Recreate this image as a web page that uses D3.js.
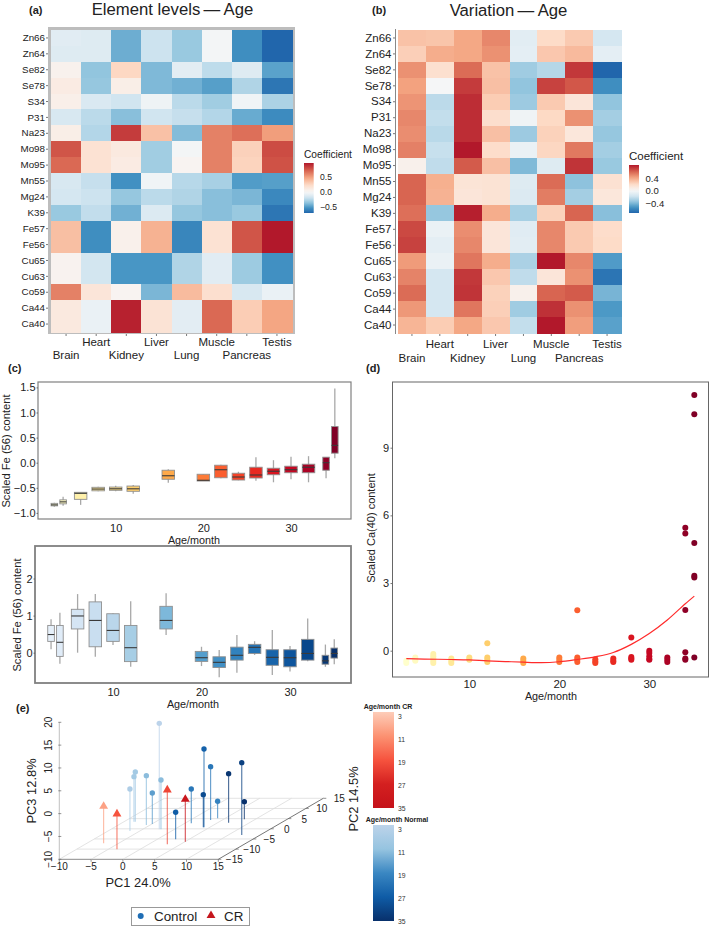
<!DOCTYPE html>
<html><head><meta charset="utf-8">
<script src="https://cdn.jsdelivr.net/npm/d3@7/dist/d3.min.js"></script>
<style>html,body{margin:0;padding:0;background:#fff}svg{display:block}text{font-family:"Liberation Sans",Arial,sans-serif;fill:#222}</style>
</head><body><svg id="c" width="709" height="926"></svg>
<script>
// ---------- heatmap data ----------
const elements = ["Zn66","Zn64","Se82","Se78","S34","P31","Na23","Mo98","Mo95","Mn55","Mg24","K39","Fe57","Fe56","Cu65","Cu63","Co59","Ca44","Ca40"];
const tissues = ["Brain","Heart","Kidney","Liver","Lung","Muscle","Pancreas","Testis"];
const levels = [
[-.10,-.11,-.42,-.18,-.32,-.02,-.53,-.68],
[-.11,-.11,-.42,-.18,-.32,-.02,-.53,-.68],
[.05,-.34,.25,-.38,-.09,-.22,-.11,-.46],
[.10,-.33,.08,-.38,-.41,-.47,-.26,-.62],
[.07,-.13,-.17,-.04,-.23,-.30,-.03,-.27],
[-.14,-.23,-.36,-.17,-.20,-.25,-.43,-.54],
[.08,-.25,.83,.35,-.37,.60,.66,.50],
[.75,.18,.12,-.30,-.02,.60,.28,.78],
[.68,.18,.10,-.30,.03,.60,.27,.76],
[-.14,-.20,-.52,-.03,-.24,-.28,-.48,-.47],
[-.15,-.18,-.33,-.23,-.26,-.36,-.39,-.55],
[-.32,-.21,-.41,-.12,-.33,-.36,-.32,-.62],
[.36,-.53,.06,.42,-.56,.18,.75,.95],
[.36,-.53,.06,.42,-.56,.18,.75,.95],
[.04,-.16,-.50,-.50,-.26,-.10,-.31,-.52],
[.04,-.16,-.50,-.50,-.26,-.10,-.31,-.52],
[.60,.15,.03,-.39,.38,.20,-.14,-.06],
[.12,-.06,.92,.17,-.09,.68,.30,.47],
[.12,-.06,.92,.17,-.09,.68,.30,.47]];
const variation = [
[.30,.29,.40,.50,-.10,.20,.27,-.16],
[.25,.38,.40,.47,-.09,.28,.33,-.09],
[.47,.17,.58,.30,-.32,-.26,.73,-.72],
[.42,-.01,.72,.31,-.36,.70,.64,-.56],
[.46,-.24,.76,.26,-.33,.27,.13,-.36],
[.50,-.22,.76,.18,-.04,.21,.47,-.31],
[.48,-.25,.76,.31,-.33,.24,.12,-.35],
[.52,-.21,.82,.19,-.06,.22,.54,-.31],
[.05,-.23,.63,.31,-.40,-.12,.74,-.34],
[.60,.37,.14,.15,-.12,.58,-.37,.16],
[.60,.36,.13,.15,-.13,.53,-.31,.12],
[.57,-.35,.80,.38,-.30,.24,.60,-.38],
[.68,-.06,.48,.13,-.11,.50,.27,.19],
[.70,-.09,.50,.13,-.10,.50,.27,.20],
[.44,-.06,.55,.38,-.29,.82,.50,-.51],
[.51,-.16,.73,.28,-.23,.13,.47,-.66],
[.58,-.16,.74,.24,.05,.60,.63,-.42],
[.45,-.16,.55,.25,-.32,.75,.47,-.52],
[.35,.26,.40,.28,-.22,.82,.43,-.49]];
const rdbu = ["#2166ac","#4393c3","#92c5de","#d1e5f0","#f7f7f7","#fddbc7","#f4a582","#d6604d","#b2182b"];
const levelsRange = [-.68,.95], variationRange = [-.72,.82];
const levelsTicks = [.5,0,-.5], variationTicks = [.4,0,-.4];

// ---------- box data: [age, low whisker, q1, median, q3, high whisker] ----------
const ages = [3,4,6,8,10,12,16,20,22,24,26,28,30,32,34,35];
const crFe = [
[-.875,-.86,-.84,-.81,-.80],[-.86,-.82,-.78,-.74,-.68],[-.84,-.73,-.61,-.59,-.59],[-.57,-.56,-.525,-.49,-.48],
[-.57,-.55,-.52,-.485,-.46],[-.62,-.57,-.52,-.465,-.445],[-.40,-.33,-.26,-.15,-.13],[-.365,-.365,-.35,-.23,-.23],
[-.31,-.30,-.14,-.05,-.04],[-.35,-.345,-.285,-.21,-.18],[-.36,-.305,-.245,-.09,.11],[-.39,-.24,-.17,-.11,.05],
[-.33,-.20,-.14,-.07,.12],[-.39,-.20,-.09,-.03,.13],[-.31,-.15,0,.11,.11],[.09,.19,.345,.72,1.48]];
const normalFe = [
[.09,.305,.49,.735,.90],[-.30,-.10,.28,.735,1.08],[0,.64,.99,1.17,1.58],[-.11,.16,.87,1.37,1.58],
[.21,.305,.60,1.05,1.06],[-.38,-.24,.135,.735,1.39],[.475,.64,.87,1.25,1.60],[-.36,-.235,-.135,.035,.16],
[-.66,-.40,-.26,-.11,.07],[-.54,-.20,-.07,.15,.475],[-.06,-.02,.145,.225,.31],[-.60,-.34,-.125,.08,.61],
[-.51,-.38,-.135,.08,.18],[-.23,-.20,-.02,.36,.92],[-.38,-.31,-.22,-.07,.22],[-.31,-.145,-.02,.125,.36]];

// ---------- Ca(40) scatter ----------
const caValues = [
[-.45,-.55],[-.3,-.4,-.45],[-.15,-.25,-.35,-.45,-.55],[-.35,-.45,-.55],[-.3,-.4],[.33,-.3,-.4,-.5],
[-.35,-.45,-.55],[-.3,-.4,-.5],[1.79,-.3,-.4,-.5],[-.38,-.48,-.55],[-.35,-.45,-.5],[.58,-.28,-.35,-.4],
[0,-.1,-.25,-.37,-.4],[-.3,-.4,-.5],[5.45,5.2,1.8,-.07,-.35,-.4],[11.34,10.48,4.78,3.32,3.25,-.3]];
const fitAge = [3,5,8,10,12,14,16,18,20,22,24,26,28,30,32,34,35];
const fitValue = [-.35,-.37,-.39,-.41,-.45,-.48,-.51,-.53,-.49,-.39,-.27,-.08,.28,.76,1.36,2.08,2.42];

// ---------- PCA ----------
const pcaControlPC1 = [-2.4,4.09,3.15,12.1,6.7,-8.24,-8.45,-5.61,-2.13,-6.56,-4.94,1.01,3.98,3.8,8.27,2.88];
const pcaControlPC2 = [-.25,.74,4.34,-3.03,3.03,3.52,3.52,1.89,-.25,-1.07,2.38,2.7,.74,5.16,4.67,-5.16];
const pcaControlPC3 = [13.2,7.15,1.68,5.84,.73,.88,-.15,.8,.8,-.8,-3.21,-2.48,-2.85,-6.28,-6.13,-4.09];
const pcaControlAge = [3,26,22,32,34,8,8,12,12,6,16,22,30,20,35,27];
const pcaCrPC1 = [-7.36,-3.64,2.92,5.03];
const pcaCrPC2 = [-7.13,-10.08,-7.62,-6.31];
const pcaCrPC3 = [-1.9,-2.26,1.9,-.73];
const pcaCrAge = [9,19,21,33];
const legendAges = [3,11,19,27,35];
const crRamp = ["#fdcdb9","#fc9272","#f6533e","#d42020","#c5121a"];
const normalRamp = ["#bcd3ea","#96c4e0","#3a87c2","#0f5ca6","#08306b"];

// ---------- helpers ----------
const svg = d3.select("#c");
const txt = (x,y,s,size,o={}) => {
  const t = svg.append("text").attr("x",x).attr("y",y).attr("font-size",size).text(s)
    .attr("text-anchor",o.a||"start").attr("dominant-baseline","central");
  if(o.b) t.attr("font-weight","bold");
  if(o.f) t.style("fill",o.f);
  if(o.r) t.attr("transform",`rotate(${o.r} ${x} ${y})`);
  return t;
};
function styleAxis(g,size,color){
  g.select(".domain").remove();
  g.selectAll("line").attr("stroke",color||"#555").attr("stroke-width",.8);
  g.selectAll("text").attr("font-size",size).style("fill","#222").attr("font-family",'"Liberation Sans",Arial,sans-serif');
}
function colorFn(range){
  const [lo,hi]=range;
  const dom=[...d3.range(4).map(i=>lo*(4-i)/4),0,...d3.range(1,5).map(i=>hi*i/4)];
  return d3.scaleLinear().domain(dom).range(rdbu);
}
function heatmap(o){
  const xb=d3.scaleBand().domain(tissues).range([o.x0,o.x1]);
  const yb=d3.scaleBand().domain(elements).range([o.y0,o.y1]);
  const col=colorFn(o.range);
  const g=svg.append("g").attr("shape-rendering","crispEdges");
  o.data.forEach((row,i)=>row.forEach((v,j)=>{
    g.append("rect").attr("x",xb(tissues[j])).attr("y",yb(elements[i]))
     .attr("width",xb.bandwidth()+.5).attr("height",yb.bandwidth()+.5).attr("fill",col(v));
  }));
  const ay=svg.append("g").attr("transform",`translate(${o.ax},0)`).call(d3.axisLeft(yb).tickSize(2).tickPadding(o.tp));
  styleAxis(ay,o.ylabel);
  const ax=svg.append("g").attr("transform",`translate(0,${o.axY})`).call(d3.axisBottom(xb).tickSize(2).tickFormat(""));
  styleAxis(ax,o.xlabel);
  tissues.forEach((t,j)=>txt(xb(t)+xb.bandwidth()/2,j%2?o.ly1:o.ly2,t,o.xlabel,{a:"middle"}));
  // colour bar
  const id="grad"+o.id, [lo,hi]=o.range;
  const gr=svg.append("defs").append("linearGradient").attr("id",id).attr("x1",0).attr("x2",0).attr("y1",1).attr("y2",0);
  d3.range(0,1.001,.05).forEach(t=>gr.append("stop").attr("offset",t).attr("stop-color",col(lo+(hi-lo)*t)));
  const cb=d3.scaleLinear().domain(o.range).range([o.cb[3],o.cb[1]]);
  svg.append("rect").attr("x",o.cb[0]).attr("y",o.cb[1]).attr("width",o.cb[2]-o.cb[0]).attr("height",o.cb[3]-o.cb[1]).attr("fill",`url(#${id})`);
  o.ticks.forEach(v=>txt(o.cb[2]+o.cbl,cb(v),v===0?"0.0":d3.format(".1f")(v).replace("-","\u2212"),o.cbs));
  txt(o.cb[0],o.cbty,"Coefficient",o.cbt);
}

// ---------- panel a ----------
svg.append("rect").attr("x",49.5).attr("y",28.5).attr("width",244).attr("height",304).attr("fill","none").attr("stroke","#bdbdbd").attr("stroke-width",3);
heatmap({id:"a",data:levels,range:levelsRange,ticks:levelsTicks,x0:51,x1:292,y0:30,y1:332,ax:48,axY:334,tp:1,ylabel:9.8,xlabel:11.5,ly1:342,ly2:355,cb:[304,163,313.7,213],cbl:6.3,cbs:8.6,cbty:154,cbt:10.2});
txt(172.5,9,"Element levels\u2009\u2014\u2009Age",16.7,{a:"middle"});
txt(29,10,"(a)",11,{b:1});
// ---------- panel b ----------
svg.append("line").attr("x1",395.5).attr("x2",395.5).attr("y1",29).attr("y2",334).attr("stroke","#888").attr("stroke-width",1);
heatmap({id:"b",data:variation,range:variationRange,ticks:variationTicks,x0:398,x1:621,y0:30,y1:333,ax:395,axY:334,tp:1.5,ylabel:11.5,xlabel:11.5,ly1:344,ly2:358,cb:[629,165,639,213],cbl:6.5,cbs:9.5,cbty:155.5,cbt:11.5});
txt(508.5,10.5,"Variation\u2009\u2014\u2009Age",16.7,{a:"middle"});
txt(372,10,"(b)",11,{b:1});

// ---------- box panels ----------
function boxes(o){
  const x=d3.scaleLinear().domain([10,30]).range(o.xr);
  const y=d3.scaleLinear().domain(o.yd).range(o.yr);
  const col=o.col;
  svg.append("rect").attr("x",o.b[0]).attr("y",o.b[1]).attr("width",o.b[2]-o.b[0]).attr("height",o.b[3]-o.b[1])
    .attr("fill","#fff").attr("stroke","#808080").attr("stroke-width",o.bw);
  o.data.forEach((d,i)=>{
    const m=ages[i], gap=d3.min(ages.filter(a=>a!==m).map(a=>Math.abs(a-m)));
    const w=Math.min(o.mw,(x(1)-x(0))*gap*.75), cx=x(m);
    svg.append("line").attr("x1",cx).attr("x2",cx).attr("y1",y(d[0])).attr("y2",y(d[4])).attr("stroke","#a8a8a8").attr("stroke-width",1.3);
    svg.append("rect").attr("x",cx-w/2).attr("y",y(d[3])).attr("width",w).attr("height",y(d[1])-y(d[3]))
      .attr("fill",col(m)).attr("stroke","#909090").attr("stroke-width",.9);
    svg.append("line").attr("x1",cx-w/2).attr("x2",cx+w/2).attr("y1",y(d[2])).attr("y2",y(d[2])).attr("stroke","#3a3a3a").attr("stroke-width",1.1);
  });
  styleAxis(svg.append("g").attr("transform",`translate(${o.b[0]},0)`).call(d3.axisLeft(y).tickValues(o.yt).tickSize(1.5).tickPadding(1).tickFormat(o.yf)),11);
  styleAxis(svg.append("g").attr("transform",`translate(0,${o.b[3]})`).call(d3.axisBottom(x).tickValues([10,20,30]).tickSize(0).tickPadding(o.xp).tickFormat(d3.format("d"))),11);
}
const ylorrd=d3.scaleSequential(d3.interpolateYlOrRd).domain([3,35]);
const blues=d3.scaleSequential(d3.interpolateBlues).domain([0,35]);
boxes({data:crFe,col:ylorrd,xr:[115.7,291],yd:[0,1],yr:[462.7,412.5],b:[38,382,351,519],bw:1.2,mw:12.5,yt:[-1,-.5,0,.5,1,1.5],yf:d3.format(".1f"),xp:5});
boxes({data:normalFe,col:blues,xr:[113,290],yd:[0,1],yr:[652.7,615.6],b:[35,546,351,683],bw:1.8,mw:12.5,yt:[0,1,2],yf:d3.format("d"),xp:5});
txt(6,451,"Scaled Fe (56) content",11.2,{a:"middle",r:-90});
txt(194,540,"Age/month",10.8,{a:"middle"});
txt(16.5,615,"Scaled Fe (56) content",11.2,{a:"middle",r:-90});
txt(193,704,"Age/month",10.8,{a:"middle"});
txt(8,368,"(c)",11,{b:1});

// ---------- panel d ----------
(function(){
  const x=d3.scaleLinear().domain([10,30]).range([469.3,649.3]);
  const y=d3.scaleLinear().domain([0,9]).range([650.7,447.7]);
  svg.append("rect").attr("x",392.5).attr("y",382).attr("width",316).attr("height",295).attr("fill","none").attr("stroke","#666").attr("stroke-width",1);
  caValues.forEach((vals,i)=>vals.forEach(v=>{
    svg.append("circle").attr("cx",x(ages[i])).attr("cy",y(v)).attr("r",3).attr("fill",ylorrd(ages[i]));
  }));
  const line=d3.line().x((d,i)=>x(fitAge[i])).y(d=>y(d)).curve(d3.curveMonotoneX);
  svg.append("path").attr("d",line(fitValue)).attr("fill","none").attr("stroke","#ff2b2b").attr("stroke-width",1.2);
  styleAxis(svg.append("g").attr("transform","translate(392,0)").call(d3.axisLeft(y).tickValues([0,3,6,9]).tickSize(1.5).tickPadding(1.5).tickFormat(d3.format("d"))),11);
  styleAxis(svg.append("g").attr("transform","translate(0,677)").call(d3.axisBottom(x).tickValues([10,20,30]).tickSize(0).tickPadding(3).tickFormat(d3.format("d"))),11.5);
  txt(371,528,"Scaled Ca(40) content",11,{a:"middle",r:-90});
  txt(551,696,"Age/month",10.8,{a:"middle"});
  txt(366,368,"(d)",11,{b:1});
})();

// ---------- panel e ----------
(function(){
  const px=d3.scaleLinear().domain([-10,15]).range([59.3,218.3]);
  const yShiftX=d3.scaleLinear().domain([-15,15]).range([0,105]);
  const yShiftY=d3.scaleLinear().domain([-15,15]).range([0,-61]);
  const zShift=d3.scaleLinear().domain([-10,20]).range([0,-137]);
  const Y0=859.3;
  const P=(a,b,c)=>[px(a)+yShiftX(b),Y0+yShiftY(b)+zShift(c)];
  const grid="#dcdcdc";
  const seg=(p,q,c,w)=>svg.append("line").attr("x1",p[0]).attr("y1",p[1]).attr("x2",q[0]).attr("y2",q[1]).attr("stroke",c).attr("stroke-width",w);
  const xt=d3.range(-10,16,5), yt=d3.range(-15,16,5), zt=d3.range(-10,21,5);
  yt.forEach(b=>seg(P(-10,b,-10),P(15,b,-10),b===-15?"#8a8a8a":grid,b===-15?1:.8));
  xt.forEach(a=>seg(P(a,-15,-10),P(a,15,-10),a===15?"#777":grid,a===15?1:.8));
  seg(P(-10,-15,-10),P(-10,-15,20),"#b0b0b0",.8);
  xt.forEach(a=>{const p=P(a,-15,-10);seg(p,[p[0],p[1]+2.5],"#666",.7);txt(p[0],p[1]+7.5,String(a).replace("-","\u2212"),10,{a:"middle"});});
  yt.forEach(b=>{const p=P(15,b,-10);seg(p,[p[0]+3,p[1]],"#666",.7);txt(p[0]+16,p[1]+.5,String(b).replace("-","\u2212"),10,{a:"middle"});});
  zt.forEach(c=>{const p=P(-10,-15,c);seg([p[0]-1,p[1]],[p[0]+2,p[1]],"#666",.7);txt(p[0]-11,p[1],String(c).replace("-","\u2212"),10,{a:"middle",r:-90});});
  const blue=d3.scaleLinear().domain(legendAges).range(normalRamp);
  const red=d3.scaleLinear().domain(legendAges).range(crRamp);
  const pts=[
    ...pcaControlPC1.map((v,i)=>({a:v,b:pcaControlPC2[i],c:pcaControlPC3[i],col:blue(pcaControlAge[i]),tri:false})),
    ...pcaCrPC1.map((v,i)=>({a:v,b:pcaCrPC2[i],c:pcaCrPC3[i],col:red(pcaCrAge[i]),tri:true}))
  ].sort((p,q)=>q.b-p.b);
  const sym=d3.symbol().type(d3.symbolTriangle).size(34);
  pts.forEach(p=>{
    const top=P(p.a,p.b,p.c), base=P(p.a,p.b,-10);
    seg(top,base,p.col,1.1).attr("stroke-opacity",.75);
    if(p.tri) svg.append("path").attr("d",sym()).attr("transform",`translate(${top[0]},${top[1]})`).attr("fill",p.col);
    else svg.append("circle").attr("cx",top[0]).attr("cy",top[1]).attr("r",2.7).attr("fill",p.col);
  });
  txt(138,882,"PC1 24.0%",12.9,{a:"middle"});
  txt(31,791,"PC3 12.8%",12.9,{a:"middle",r:-90});
  txt(353,799,"PC2 14.5%",12.9,{a:"middle",r:-90});
  txt(16,708,"(e)",11,{b:1});
  // legend
  svg.append("rect").attr("x",131.5).attr("y",907.5).attr("width",118).attr("height",18).attr("fill","#fff").attr("stroke","#999").attr("stroke-width",1);
  svg.append("circle").attr("cx",140.7).attr("cy",916).attr("r",3).attr("fill","#1f6eb5");
  txt(154,916.5,"Control",13.4);
  svg.append("path").attr("d",sym()).attr("transform","translate(211,915.5)").attr("fill","#c5161d");
  txt(224,916.5,"CR",13.4);
  // age colour bars
  function bar(id,ramp,scaleFn,title,cx,ty,y0,y1,t0){
    const gr=svg.append("defs").append("linearGradient").attr("id",id).attr("x1",0).attr("x2",0).attr("y1",0).attr("y2",1);
    legendAges.forEach((a,i)=>gr.append("stop").attr("offset",i/4).attr("stop-color",ramp[i]));
    svg.append("rect").attr("x",373).attr("y",y0).attr("width",21).attr("height",y1-y0).attr("fill",`url(#${id})`);
    txt(cx,ty,title,7,{a:"middle",b:1});
    const s=d3.scaleLinear().domain([3,35]).range([t0,y1]);
    legendAges.forEach(a=>txt(398,s(a),a,6.8,{f:"#333"}));
  }
  bar("crbar",crRamp,red,"Age/month CR",388,706,712,808,716);
  bar("nbar",normalRamp,blue,"Age/month Normal",397,819,825,921,829);
})();
</script></body></html>
